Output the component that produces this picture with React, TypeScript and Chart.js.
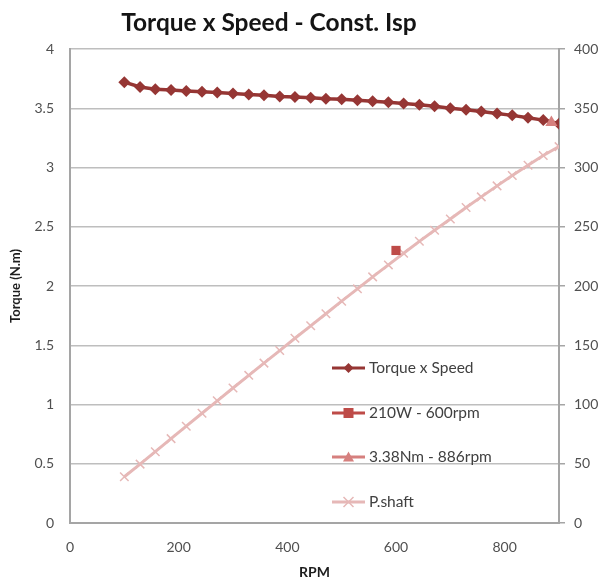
import React, { useEffect, useRef } from 'react';
import { Chart, registerables } from 'chart.js';

Chart.register(...registerables);

// ---- data ----
const rpm = [100, 129, 157, 186, 214, 243, 271, 300, 329, 357, 386, 414, 443, 471, 500, 529, 557, 586, 614, 643, 671, 700, 729, 757, 786, 814, 843, 871, 900];
const torqueNm = [3.72, 3.68, 3.66, 3.655, 3.645, 3.64, 3.633, 3.625, 3.617, 3.609, 3.6, 3.595, 3.588, 3.58, 3.575, 3.567, 3.56, 3.55, 3.54, 3.53, 3.517, 3.5, 3.487, 3.472, 3.456, 3.44, 3.42, 3.4, 3.37];
const pShaftW = [39, 49.7, 60.2, 71.2, 81.7, 92.6, 103.1, 113.9, 124.6, 134.9, 145.5, 155.9, 166.4, 176.6, 187.2, 197.6, 207.7, 217.8, 227.6, 237.7, 247.1, 256.6, 266.2, 275.2, 284.5, 293.2, 301.9, 310.1, 317.6];
const powerPointRpm = [600];
const powerPointW = [230];
const torquePointRpm = [886];
const torquePointNm = [3.38];
const seriesLabels = ['Torque x Speed', '210W - 600rpm', '3.38Nm - 886rpm', 'P.shaft'];
const chartTitle = 'Torque x Speed - Const. Isp';
const xTitle = 'RPM';
const yTitle = 'Torque (N.m)';

const C_TORQUE = 'rgb(150,54,52)';
const C_SQUARE = 'rgb(190,75,72)';
const C_TRI = 'rgb(214,128,126)';
const C_PSHAFT = 'rgb(230,184,183)';
const GRID = 'rgb(190,190,190)';
const AXIS = 'rgb(165,165,165)';
const TICK_COLOR = 'rgb(80,80,80)';
const FONT = 'Lato';

function drawMarker(ctx: CanvasRenderingContext2D, style: string, x: number, y: number, r: number, color: string) {
  ctx.save();
  ctx.fillStyle = color;
  ctx.strokeStyle = color;
  ctx.beginPath();
  if (style === 'rectRot') {
    ctx.moveTo(x, y - r); ctx.lineTo(x + r, y); ctx.lineTo(x, y + r); ctx.lineTo(x - r, y); ctx.closePath(); ctx.fill();
  } else if (style === 'rect') {
    ctx.rect(x - r, y - r, 2 * r, 2 * r); ctx.fill();
  } else if (style === 'triangle') {
    ctx.moveTo(x, y - r); ctx.lineTo(x + r, y + r * 0.8); ctx.lineTo(x - r, y + r * 0.8); ctx.closePath(); ctx.fill();
  } else if (style === 'crossRot') {
    ctx.lineWidth = 1.5;
    ctx.moveTo(x - r, y - r); ctx.lineTo(x + r, y + r); ctx.moveTo(x + r, y - r); ctx.lineTo(x - r, y + r); ctx.stroke();
  }
  ctx.restore();
}

const insideLegend = {
  id: 'insideLegend',
  afterDatasetsDraw(chart: any) {
    const ctx = chart.ctx as CanvasRenderingContext2D;
    const area = chart.chartArea;
    const x0 = area.left + 262;
    const x1 = x0 + 33;
    const tx = x1 + 4;
    const rows = [368, 413, 457, 502];
    chart.data.datasets.forEach((ds: any, i: number) => {
      const y = rows[i];
      ctx.save();
      ctx.strokeStyle = ds.borderColor;
      ctx.lineWidth = 3;
      ctx.beginPath(); ctx.moveTo(x0, y); ctx.lineTo(x1, y); ctx.stroke();
      drawMarker(ctx, ds.pointStyle, (x0 + x1) / 2, y, ds.legendMarker, ds.pointBackgroundColor);
      ctx.fillStyle = 'rgb(64,64,64)';
      ctx.font = `15.5px ${FONT}`;
      ctx.textBaseline = 'middle';
      ctx.textAlign = 'left';
      ctx.fillText(ds.label, tx, y);
      ctx.restore();
    });
  },
};

const titlePlugin = {
  id: 'offsetTitle',
  afterDraw(chart: any) {
    const ctx = chart.ctx as CanvasRenderingContext2D;
    ctx.save();
    ctx.fillStyle = 'rgb(20,20,20)';
    ctx.font = `bold 24.5px ${FONT}`;
    ctx.textAlign = 'center';
    ctx.textBaseline = 'middle';
    ctx.fillText(chartTitle, 269, 23);
    ctx.restore();
  },
};

export default function App() {
  const ref = useRef<HTMLCanvasElement | null>(null);
  useEffect(() => {
    document.body.style.margin = '0';
    if (!ref.current) return;
    const chart = new Chart(ref.current, {
      type: 'line',
      data: {
        datasets: [
          {
            label: seriesLabels[0],
            data: rpm.map((x, i) => ({ x, y: torqueNm[i] })),
            yAxisID: 'y',
            borderColor: C_TORQUE,
            backgroundColor: C_TORQUE,
            pointBackgroundColor: C_TORQUE,
            pointBorderColor: C_TORQUE,
            borderWidth: 3.5,
            pointStyle: 'rectRot',
            pointRadius: 6,
            pointBorderWidth: 0,
            legendMarker: 5,
            order: 2,
          } as any,
          {
            label: seriesLabels[1],
            data: powerPointRpm.map((x, i) => ({ x, y: powerPointW[i] })),
            yAxisID: 'y1',
            borderColor: C_SQUARE,
            backgroundColor: C_SQUARE,
            pointBackgroundColor: C_SQUARE,
            pointBorderColor: C_SQUARE,
            borderWidth: 3,
            pointStyle: 'rect',
            pointRadius: 6.5,
            pointBorderWidth: 0,
            legendMarker: 5,
            order: 1,
          } as any,
          {
            label: seriesLabels[2],
            data: torquePointRpm.map((x, i) => ({ x, y: torquePointNm[i] })),
            yAxisID: 'y',
            borderColor: C_TRI,
            backgroundColor: C_TRI,
            pointBackgroundColor: C_TRI,
            pointBorderColor: C_TRI,
            borderWidth: 3,
            pointStyle: 'triangle',
            pointRadius: 7,
            pointBorderWidth: 0,
            legendMarker: 5.5,
            order: 0,
          } as any,
          {
            label: seriesLabels[3],
            data: rpm.map((x, i) => ({ x, y: pShaftW[i] })),
            yAxisID: 'y1',
            borderColor: C_PSHAFT,
            backgroundColor: C_PSHAFT,
            pointBackgroundColor: C_PSHAFT,
            pointBorderColor: C_PSHAFT,
            borderWidth: 3,
            pointStyle: 'crossRot',
            pointRadius: 6,
            pointBorderWidth: 1.5,
            legendMarker: 5,
            order: 3,
          } as any,
        ],
      },
      options: {
        animation: false,
        responsive: false,
        maintainAspectRatio: false,
        layout: { padding: { top: 49, left: 0, right: 0, bottom: 0 } },
        plugins: {
          legend: { display: false },
          tooltip: { enabled: false },
          title: { display: false },
        },
        scales: {
          x: {
            type: 'linear',
            min: 0,
            max: 900,
            grid: { display: false, drawTicks: false },
            border: { display: true, color: AXIS, width: 2 },
            ticks: {
              stepSize: 200,
              includeBounds: false,
              padding: 16,
              color: TICK_COLOR,
              font: { family: FONT, size: 14 },
              callback: (v: any) => String(v),
            },
            title: {
              display: true,
              text: xTitle,
              color: 'rgb(30,30,30)',
              font: { family: FONT, size: 14, weight: 'bold' },
              padding: { top: 0, bottom: 1 },
            },
            afterFit: (s: any) => { s.height = 59; },
          },
          y: {
            type: 'linear',
            position: 'left',
            min: 0,
            max: 4,
            grid: { color: GRID, lineWidth: 1.5, drawTicks: false },
            border: { display: true, color: AXIS, width: 2 },
            ticks: {
              stepSize: 0.5,
              padding: 16,
              color: TICK_COLOR,
              font: { family: FONT, size: 14 },
              callback: (v: any) => String(v),
            },
            title: {
              display: true,
              text: yTitle,
              color: 'rgb(30,30,30)',
              font: { family: FONT, size: 13, weight: 'bold' },
              padding: { top: 8, bottom: 0 },
            },
            afterFit: (s: any) => { s.width = 70; },
          },
          y1: {
            type: 'linear',
            position: 'right',
            min: 0,
            max: 400,
            grid: { drawOnChartArea: false, drawTicks: true, tickLength: 6, color: AXIS, lineWidth: 1.5 },
            border: { display: true, color: AXIS, width: 2 },
            ticks: {
              stepSize: 50,
              padding: 9,
              color: TICK_COLOR,
              font: { family: FONT, size: 14 },
              callback: (v: any) => String(v),
            },
            afterFit: (s: any) => { s.width = 47; },
          },
        },
      } as any,
      plugins: [insideLegend, titlePlugin],
    });
    return () => chart.destroy();
  }, []);
  return (
    <div style={{ width: 606, height: 582, position: 'relative', background: '#fff' }}>
      <canvas ref={ref} width={606} height={582} style={{ width: 606, height: 582, display: 'block' }} />
    </div>
  );
}
